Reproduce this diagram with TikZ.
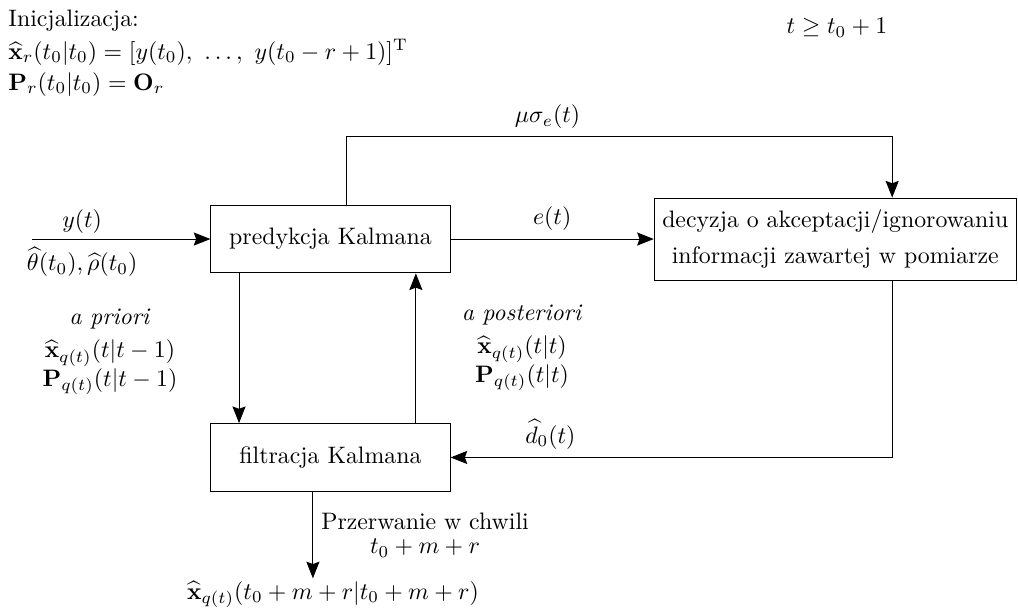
\documentclass[tikz,border=0pt]{standalone}
\usepackage{amsmath,amssymb}
\usepackage{tikz}
\usetikzlibrary{arrows.meta,positioning,calc}
\tikzset{
  kbox/.style={rectangle,draw,line width=0.4pt,align=center,
    minimum width=3.53cm,minimum height=1.0cm,inner sep=3pt},
  decbox/.style={rectangle,draw,line width=0.4pt,align=center,
    text width=146pt,minimum height=1.21cm,inner sep=3pt},
  karr/.style={-{Stealth[length=7pt,width=5.5pt,inset=1pt]},line width=0.4pt},
  klabel/.style={align=center},
}

\begin{document}
\begin{tikzpicture}
  \useasboundingbox (-4.878,-5.432) rectangle (10.147,3.528);

  \node[kbox] (pred) {predykcja Kalmana};
  \node[kbox, below=2.21cm of pred] (filt) {filtracja Kalmana};
  \node[decbox, right=3.0cm of pred] (dec) {decyzja o akceptacji/ignorowaniu\\[3pt]
    informacji zawartej w pomiarze};
  \coordinate[left=2.63cm of pred] (wej);

  % teksty bez strzalek
  \node[anchor=north west,inner sep=0pt,align=left] (init) at (-4.760,3.395)
    {Inicjalizacja:\\[2pt]
     $\widehat{\mathbf{x}}_r(t_0|t_0)=[y(t_0),\ \ldots,\ y(t_0-r+1)]^{\mathrm{T}}$\\[1pt]
     $\mathbf{P}_r(t_0|t_0)=\mathbf{O}_r$};
  \node (czas) at (7.476,3.114) {$t\geq t_0+1$};
  \node[klabel] (apriori) at (-3.255,-1.668)
    {\textit{a priori}\\[2pt] $\widehat{\mathbf{x}}_{q(t)}(t|t-1)$\\ $\mathbf{P}_{q(t)}(t|t-1)$};
  \node[klabel] (apost) at (2.827,-1.609)
    {\textit{a posteriori}\\[2pt] $\widehat{\mathbf{x}}_{q(t)}(t|t)$\\ $\mathbf{P}_{q(t)}(t|t)$};
  \node[anchor=base,inner sep=1pt] (wynik) at (0.037,-5.314)
    {$\widehat{\mathbf{x}}_{q(t)}(t_0+m+r|t_0+m+r)$};

  \draw[karr] (wej) -- node[pos=0.28,above,yshift=-1pt]{$y(t)$}
    node[pos=0.28,below]{$\widehat{\theta}(t_0),\widehat{\rho}(t_0)$} (pred);
  \draw[karr] (pred) -- node[above]{$e(t)$} (dec);
  \draw[karr] ([xshift=0.24cm]pred.north) -- ++(0,1.0)
    -| node[pos=0.184,above]{$\mu\sigma_e(t)$} ([xshift=0.84cm]dec.north);
  \draw[karr] ([xshift=-1.35cm]pred.south) -- ([xshift=-1.35cm]filt.north);
  \draw[karr] ([xshift=1.26cm]filt.north) -- ([xshift=1.26cm]pred.south);
  \draw[karr] ([xshift=0.84cm]dec.south) |- node[pos=0.887,above]{$\widehat{d}_0(t)$} (filt.east);
  \draw[karr] ([xshift=-0.26cm]filt.south) -- node[midway,right,align=center]
    {Przerwanie w chwili\\[-2pt] $t_0+m+r$} ([xshift=-0.26cm]filt.south |- wynik.north);
\end{tikzpicture}
\end{document}
